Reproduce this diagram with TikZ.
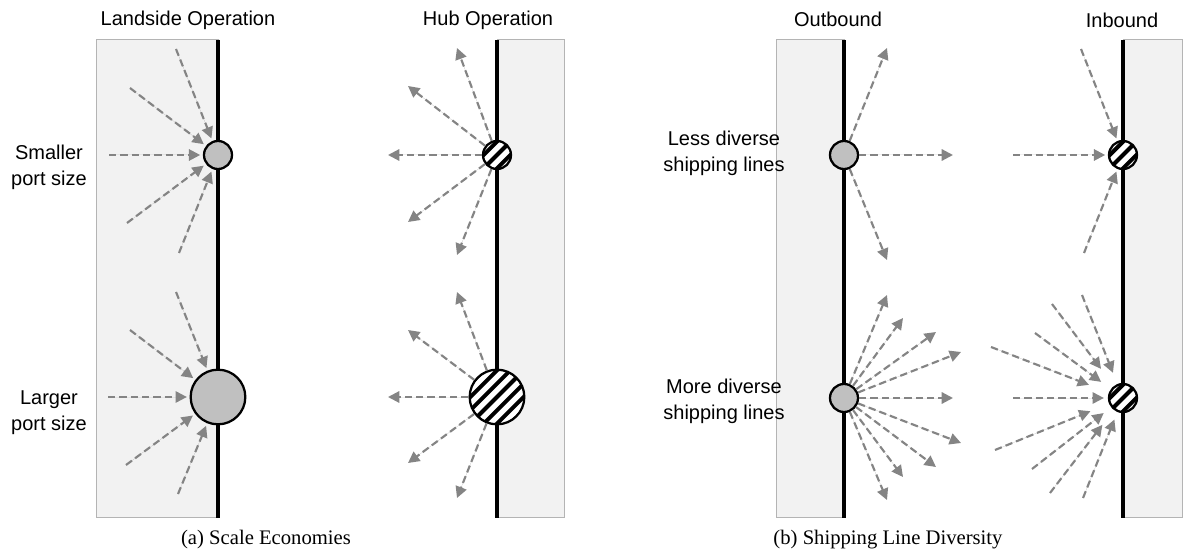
\documentclass[tikz,border=0pt]{standalone}
\usepackage{fontspec}
\setmainfont{Liberation Serif}
\setsansfont{Liberation Sans}
\usetikzlibrary{arrows.meta}

\begin{document}
\begin{tikzpicture}[x=0.75pt,y=-0.75pt,
  lab/.style={font=\sffamily\fontsize{15}{19.5}\selectfont,align=center,inner sep=0pt},
  caption/.style={font=\fontsize{15.5}{18}\selectfont,inner sep=0pt},
  side/.style={fill=sideFill,draw=sideEdge,line width=0.75pt},
  quay/.style={line width=2.3pt},
  port/.style={circle,draw,line width=1.7pt,fill=portGray,inner sep=0pt},
  hub/.style={circle,draw,line width=1.7pt,fill=white,inner sep=0pt,
    path picture={\foreach \k in {-5,...,5}
      \draw[line width=3pt] ([xshift=\k*10pt]path picture bounding box.center) ++(-30pt,-30pt) -- ++(60pt,60pt);}},
  flow/.style={draw=flowGray,line width=1.6pt,dash pattern=on 5.5pt off 3pt,
    -{Triangle[length=8.5pt,width=8.5pt]},fill=flowGray}]
\definecolor{sideFill}{HTML}{F2F2F2}
\definecolor{sideEdge}{HTML}{B4B4B4}
\definecolor{portGray}{HTML}{C0C0C0}
\definecolor{flowGray}{HTML}{848484}
\useasboundingbox (0,0) rectangle (1183,556);
\fill[white] (0,0) rectangle (1183,556);

\draw[side] (96,40) rectangle (218,517);
\draw[side] (497,40) rectangle (564,517);
\draw[side] (776,40) rectangle (844,517);
\draw[side] (1123,40) rectangle (1182.5,517);
\draw[quay] (218,40) -- (218,518);
\draw[quay] (497,40) -- (497,518);
\draw[quay] (844,40) -- (844,518);
\draw[quay] (1123,40) -- (1123,518);

\node[lab] (tLand) at (188,20) {Landside Operation};
\node[lab] (tHub) at (488,20) {Hub Operation};
\node[lab] (tOut) at (838,19) {Outbound};
\node[lab] (tIn) at (1122,20) {Inbound};
\node[lab] (tSmall) at (49,167) {Smaller\\port size};
\node[lab] (tLarge) at (49,413) {Larger\\port size};
\node[lab] (tLess) at (724,153) {Less diverse\\shipping lines};
\node[lab] (tMore) at (724,401) {More diverse\\shipping lines};
\node[caption] (capA) at (266,540) {(a) Scale Economies};
\node[caption] (capB) at (888,540) {(b) Shipping Line Diversity};

\node[port,minimum size=21pt] (lsS) at (218,155) {};
\node[port,minimum size=41pt] (lsL) at (218,397) {};
\node[hub,minimum size=21pt] (hbS) at (497,155) {};
\node[hub,minimum size=41pt] (hbL) at (497,397) {};
\node[port,minimum size=21pt] (obS) at (844,155) {};
\node[port,minimum size=21pt] (obL) at (844,398) {};
\node[hub,minimum size=21pt] (ibS) at (1123,155) {};
\node[hub,minimum size=21pt] (ibL) at (1123,398) {};

\foreach \x/\y [count=\i] in {176/49,130/88,109/155,127/223,179/253} {
  \coordinate (lsS\i) at (\x,\y);
  \draw[flow,shorten >=2pt] (lsS\i) -- (lsS);
}
\foreach \x/\y [count=\i] in {176/292,130/330,108/397,126/465,178/494} {
  \coordinate (lsL\i) at (\x,\y);
  \draw[flow,shorten >=2pt] (lsL\i) -- (lsL);
}
\foreach \x/\y [count=\i] in {457/48,408/86,388/155,408/222,457/255} {
  \coordinate (hbS\i) at (\x,\y);
  \draw[flow] (hbS) -- (hbS\i);
}
\foreach \x/\y [count=\i] in {457/292,408/330,388/397,408/463,457/498} {
  \coordinate (hbL\i) at (\x,\y);
  \draw[flow] (hbL) -- (hbL\i);
}
\foreach \x/\y [count=\i] in {887/48,953/155,887/260} {
  \coordinate (obS\i) at (\x,\y);
  \draw[flow] (obS) -- (obS\i);
}
\foreach \x/\y [count=\i] in {887/295,903/318,936/332,961/352,953/398,961/443,936/467,903/477,887/500} {
  \coordinate (obL\i) at (\x,\y);
  \draw[flow] (obL) -- (obL\i);
}
\foreach \x/\y [count=\i] in {1081/49,1013/155,1084/253} {
  \coordinate (ibS\i) at (\x,\y);
  \draw[flow,shorten >=2pt] (ibS\i) -- (ibS);
}
\foreach \x/\y/\s [count=\i] in {1082/295/9,1052/304/16,1035/333/9,991/347/16,1013/398/3,995/450/15,1032/469/7,1050/493/14,1083/498/6} {
  \coordinate (ibL\i) at (\x,\y);
  \draw[flow,shorten >=\s pt] (ibL\i) -- (ibL);
}
\end{tikzpicture}
\end{document}
